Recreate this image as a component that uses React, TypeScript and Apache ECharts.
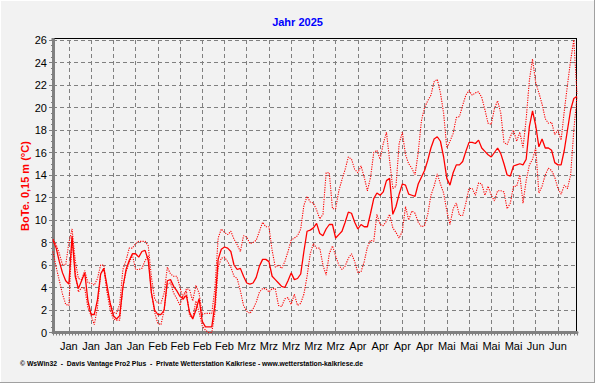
import React, { useEffect, useRef } from "react";
import * as echarts from "echarts";

// daily values, Jan 1 2025 (index 0) .. Jun 15 2025 (index 165)
const meanTemp = [
  8.2, 7.5, 6.3, 5.3, 4.6, 4.3, 8.6, 5.0, 3.9, 4.6,
  5.3, 2.8, 1.6, 1.6, 2.9, 5.2, 5.7, 4.2, 2.6, 1.5,
  1.2, 1.5, 4.0, 5.6, 6.4, 7.0, 7.0, 6.7, 7.2, 7.3,
  6.4, 3.5, 2.0, 1.6, 1.6, 2.0, 4.6, 4.7, 4.1, 3.7,
  3.2, 3.0, 3.3, 1.8, 1.2, 2.0, 3.0, 1.0, 0.5, 0.5,
  0.5, 2.5, 6.5, 7.4, 7.6, 7.5, 7.2, 6.0, 5.6, 5.7,
  5.0, 4.4, 4.3, 4.4, 4.9, 5.9, 6.5, 6.5, 6.3, 5.0,
  4.7, 4.4, 4.1, 4.0, 4.6, 5.3, 4.7, 4.8, 5.2, 7.2,
  9.0, 9.1, 9.3, 9.7, 8.8, 8.6, 9.2, 9.6, 9.6, 8.4,
  8.7, 9.0, 9.8, 10.7, 10.6, 9.8, 9.2, 9.6, 9.4, 9.4,
  10.6, 11.9, 12.4, 12.2, 12.5, 13.5, 13.7, 10.5, 11.2, 12.3,
  13.2, 13.1, 12.3, 12.2, 12.1, 13.2, 13.8, 14.4, 15.3, 16.4,
  17.2, 17.4, 17.0, 15.6, 13.7, 13.1, 14.2, 14.9, 14.9, 15.2,
  16.1, 16.9, 16.9, 16.8, 17.1, 16.4, 16.1, 15.8, 15.6, 16.0,
  16.4, 15.9, 15.0, 14.0, 13.9, 14.8, 14.9, 15.0, 14.9, 15.4,
  18.3, 19.7, 18.4, 16.5, 17.2, 16.4, 16.4, 16.2, 15.1, 14.9,
  14.9, 16.2, 18.0, 19.8, 20.8, 21.0,
];

const maxTemp = [
  8.3, 7.8, 7.0, 6.0, 6.0, 8.0, 9.2, 6.4, 4.8, 4.7,
  5.5, 4.4, 4.4, 4.2, 4.8, 6.0, 6.0, 3.8, 2.6, 1.8,
  1.7, 2.5, 5.6, 6.4, 7.5, 7.5, 7.9, 8.1, 8.1, 8.1,
  7.7, 4.9, 3.0, 2.6, 2.6, 3.5, 5.8, 5.2, 5.0, 5.0,
  4.0, 2.9, 3.9, 3.8, 2.8, 4.2, 3.5, 1.6, 1.7, 1.7,
  1.7, 4.0, 8.4, 9.2, 8.9, 8.7, 9.0, 8.3, 7.8, 7.2,
  8.6, 8.5, 7.9, 8.0, 8.2, 9.0, 9.8, 9.4, 9.4, 7.3,
  5.8, 6.0, 5.7, 6.3, 7.2, 8.2, 8.4, 8.6, 9.2, 11.3,
  12.1, 11.6, 11.5, 10.9, 10.1, 10.5, 14.2, 14.2, 11.0, 11.0,
  12.6, 13.6, 14.5, 15.6, 15.4, 14.5, 14.2, 14.8, 13.8, 12.6,
  13.8, 16.0, 16.2, 15.4, 16.8, 17.8, 15.3, 12.8, 13.0, 16.8,
  17.8, 15.8, 15.0, 14.6, 14.0, 16.0, 18.8, 20.0, 20.6, 21.1,
  22.3, 22.5, 21.3, 19.5, 16.4, 17.0, 17.7, 19.1, 19.2, 20.2,
  21.1, 21.5, 21.1, 21.3, 21.4, 20.9, 19.8, 18.6, 18.5, 19.9,
  20.6, 19.5, 16.9, 16.7, 17.4, 18.0, 17.0, 17.8, 16.4, 19.0,
  22.4, 24.3, 22.2, 21.3, 20.3, 19.0, 18.6, 18.7, 17.6, 18.0,
  17.1, 19.7, 22.0, 24.2, 26.0, 21.2,
];

const minTemp = [
  7.2, 5.8, 4.6, 3.4, 2.5, 2.4, 8.4, 5.4, 3.6, 4.0,
  3.9, 2.2, 1.5, 0.7, 2.2, 5.2, 5.7, 3.6, 2.0, 1.2,
  1.1, 1.1, 4.0, 5.4, 6.2, 6.9, 5.6, 5.6, 5.7, 6.4,
  6.8, 3.5, 1.8, 0.8, 0.7, 2.0, 4.3, 4.4, 3.5, 3.0,
  2.4, 3.4, 3.7, 1.5, 1.3, 2.8, 1.8, 0.6, 0.2, 0.0,
  0.0, 1.8, 5.8, 6.6, 6.7, 6.3, 5.8, 5.0, 4.8, 3.7,
  2.4, 1.9, 1.7, 2.1, 2.7, 3.6, 3.9, 3.9, 3.6, 3.9,
  3.9, 2.4, 2.3, 3.0, 3.1, 2.5, 3.4, 2.4, 2.6, 3.4,
  5.0, 7.0, 7.9, 7.5, 7.5, 6.0, 5.1, 7.0, 7.7, 6.8,
  6.0, 5.6, 5.9, 6.6, 7.0, 6.3, 5.3, 5.4, 6.3, 7.6,
  8.2, 8.1, 10.5, 9.6, 9.5, 9.9, 10.5, 9.3, 8.9, 8.4,
  9.0, 11.2, 10.0, 10.8, 10.6, 9.8, 9.4, 9.5, 10.5, 12.2,
  13.0, 14.1, 13.2, 12.4, 10.8, 9.6, 11.0, 11.5, 10.4, 10.4,
  11.5, 12.8, 12.8, 12.2, 13.3, 13.2, 12.2, 13.0, 12.2, 11.7,
  12.6, 12.6, 12.5, 11.0, 11.5, 13.0, 13.0, 14.0, 11.5, 13.5,
  14.9, 15.4, 16.4, 12.4, 13.0, 14.0, 14.6, 14.4, 13.8, 12.8,
  12.3, 13.1, 12.8, 14.0, 18.0, 21.0,
];

// week labels (Mondays, starting Jan 6 = index 5)
const xTickLabels = [
  "Jan", "Jan", "Jan", "Jan",
  "Feb", "Feb", "Feb", "Feb",
  "Mrz", "Mrz", "Mrz", "Mrz", "Mrz",
  "Apr", "Apr", "Apr", "Apr",
  "Mai", "Mai", "Mai", "Mai",
  "Jun", "Jun",
];
const firstMondayIndex = 5;

const titleText = "Jahr 2025";
const yAxisTitle = "BoTe. 0,15 m (°C)";
const footerText =
  "© WsWin32  -  Davis Vantage Pro2 Plus  -  Private Wetterstation Kalkriese - www.wetterstation-kalkriese.de";

const FONT = "Liberation Sans, Arial, sans-serif";

export default function App() {
  const ref = useRef<HTMLDivElement>(null);

  useEffect(() => {
    if (!ref.current) return;
    const chart = echarts.init(ref.current, null, { renderer: "svg" });
    const categories = meanTemp.map((_, i) => String(i));
    const isWeek = (i: number) => i >= firstMondayIndex && (i - firstMondayIndex) % 7 === 0;

    const option: any = {
      animation: false,
      backgroundColor: "#f2f2f2",
      title: {
        text: titleText,
        left: "center",
        top: 11,
        textStyle: { color: "#0000ff", fontSize: 11, fontWeight: "bold", fontFamily: FONT },
      },
      grid: { left: 53, right: 18, top: 40, bottom: 50.5, containLabel: false },
      xAxis: {
        type: "category",
        boundaryGap: false,
        data: categories,
        axisLine: { lineStyle: { color: "#808080", width: 3 } },
        axisTick: { show: true, interval: 0, length: 3, lineStyle: { color: "#808080", width: 1 } },
        axisLabel: {
          interval: (i: number) => isWeek(i),
          formatter: (v: string) => {
            const i = Number(v);
            return xTickLabels[(i - firstMondayIndex) / 7] ?? "";
          },
          color: "#000",
          fontSize: 11,
          fontFamily: FONT,
          margin: 8,
        },
        splitLine: {
          show: true,
          interval: (i: number) => isWeek(i),
          lineStyle: { color: "#808080", width: 1, type: [4, 3] },
        },
      },
      yAxis: {
        type: "value",
        min: 0,
        max: 26,
        interval: 2,
        axisLine: { show: true, lineStyle: { color: "#808080", width: 3 } },
        axisTick: { show: true, length: 4, lineStyle: { color: "#808080" } },
        minorTick: { show: true, splitNumber: 4, length: 2, lineStyle: { color: "#808080" } },
        axisLabel: { color: "#000", fontSize: 11, fontFamily: FONT, margin: 6 },
        splitLine: { show: true, lineStyle: { color: "#808080", width: 1, type: [4, 3] } },
      },
      series: [
        {
          type: "line",
          data: maxTemp,
          symbol: "none",
          lineStyle: { color: "#ff0000", width: 1.1, type: [1.2, 1.2] },
          z: 3,
        },
        {
          type: "line",
          data: minTemp,
          symbol: "none",
          lineStyle: { color: "#ff0000", width: 1.1, type: [1.2, 1.2] },
          z: 3,
        },
        {
          type: "line",
          data: meanTemp,
          symbol: "none",
          lineStyle: { color: "#ff0000", width: 1.3 },
          z: 4,
        },
      ],
      graphic: [
        {
          type: "text",
          x: 25,
          y: 186,
          rotation: Math.PI / 2,
          style: {
            text: yAxisTitle,
            fill: "#ff0000",
            font: `bold 11px ${FONT}`,
            align: "center",
            verticalAlign: "middle",
          },
        },
        {
          type: "text",
          x: 20,
          y: 363,
          style: {
            text: footerText,
            fill: "#000",
            font: `bold 6.8px ${FONT}`,
            align: "left",
            verticalAlign: "middle",
          },
        },
        {
          type: "line",
          shape: { x1: 53, y1: 38.5, x2: 577, y2: 38.5 },
          style: { stroke: "#000", lineWidth: 1 },
        },
        {
          type: "line",
          shape: { x1: 576.5, y1: 38, x2: 576.5, y2: 332 },
          style: { stroke: "#000", lineWidth: 1 },
        },
        {
          type: "line",
          shape: { x1: 53, y1: 38, x2: 53, y2: 41 },
          style: { stroke: "#808080", lineWidth: 3 },
        },
        {
          type: "line",
          shape: { x1: 0, y1: 0.5, x2: 594, y2: 0.5 },
          style: { stroke: "#ffffff", lineWidth: 1 },
        },
        {
          type: "line",
          shape: { x1: 0.5, y1: 0, x2: 0.5, y2: 382 },
          style: { stroke: "#ffffff", lineWidth: 1 },
        },
        {
          type: "line",
          shape: { x1: 594.5, y1: 0, x2: 594.5, y2: 383 },
          style: { stroke: "#a0a0a0", lineWidth: 1 },
        },
        {
          type: "line",
          shape: { x1: 0, y1: 382.5, x2: 595, y2: 382.5 },
          style: { stroke: "#a0a0a0", lineWidth: 1 },
        },
      ],
    };

    chart.setOption(option);
    return () => chart.dispose();
  }, []);

  return (
    <div
      ref={ref}
      style={{ position: "fixed", left: 0, top: 0, width: 595, height: 383 }}
    />
  );
}
